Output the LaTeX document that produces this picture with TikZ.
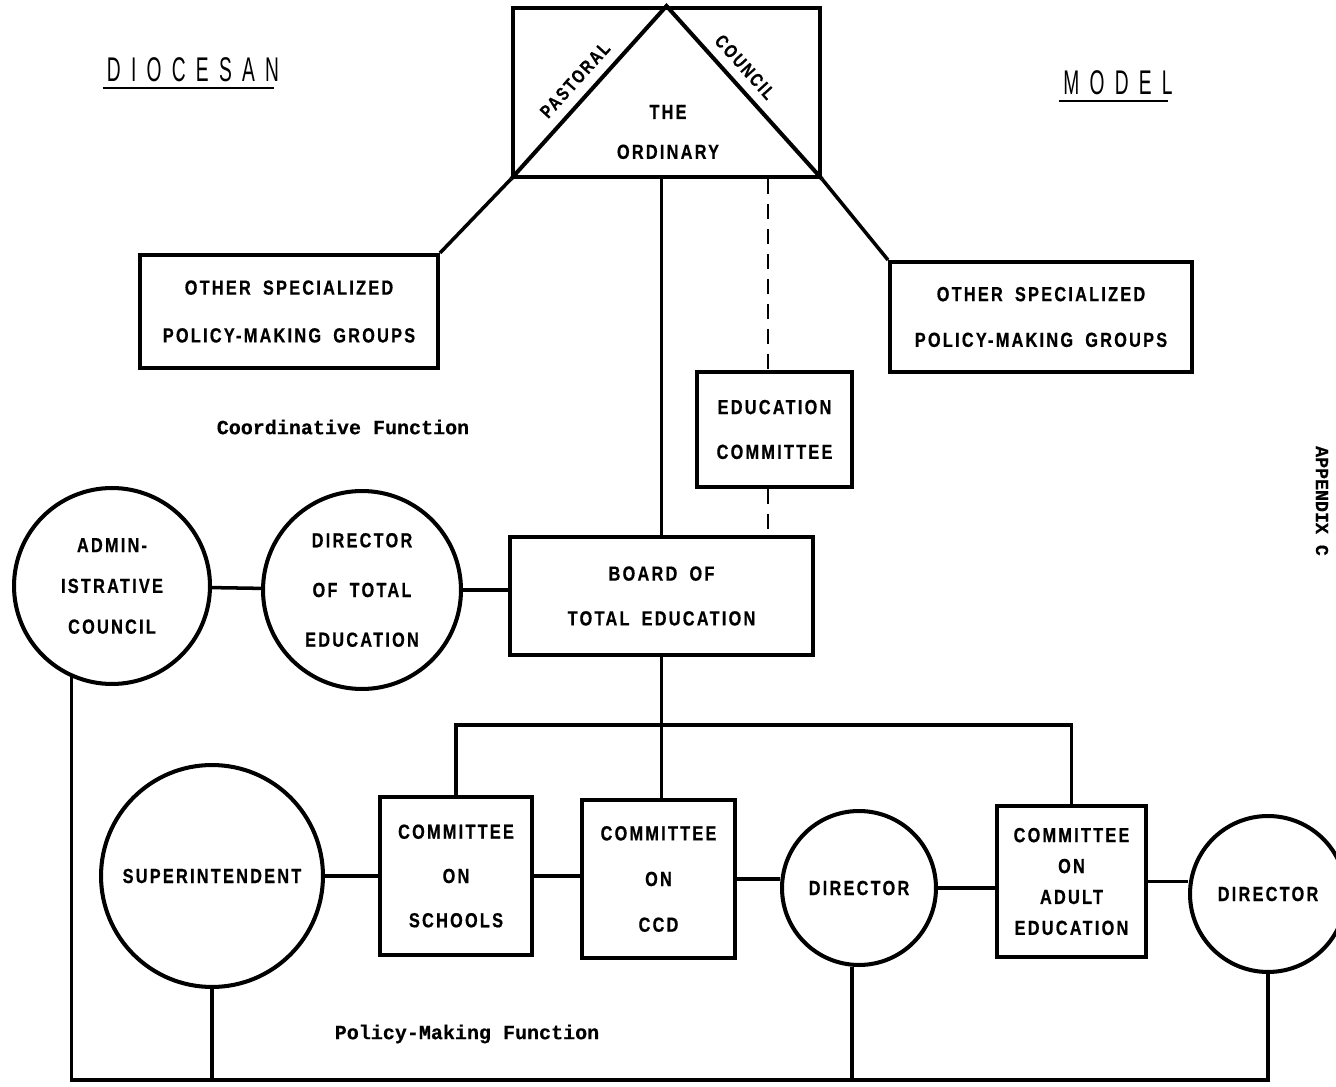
\documentclass[tikz,border=0pt]{standalone}
\usepackage{fontspec}
\newfontfamily\dgboxfont{Liberation Sans}[FakeStretch=0.8,LetterSpace=11,WordSpace=1.8,FakeBold=0.6]
\newfontfamily\dgtitlefont{Liberation Sans}[FakeStretch=0.56,LetterSpace=30]
\newfontfamily\dgmono{Liberation Mono}[FakeBold=0.5]
\tikzset{
  lbl/.style={font=\dgboxfont\bfseries\fontsize{11.6}{#1}\selectfont},
  shapebox/.style={draw, line width=2.3pt, rectangle, inner sep=0pt, align=center},
  shapecirc/.style={draw, line width=2.3pt, circle, inner sep=0pt, align=center},
  conn/.style={line width=2pt},
  dconn/.style={line width=1.6pt, dash pattern=on 0.3cm off 0.2cm},
  titletext/.style={font=\dgtitlefont\fontsize{19.5}{22}\selectfont, inner sep=0pt},
  monotext/.style={font=\dgmono\bfseries\fontsize{11.4}{14}\selectfont, inner sep=0pt},
  slanttext/.style={font=\dgboxfont\bfseries\fontsize{10.5}{12}\selectfont, inner sep=0pt},
}
\begin{document}
\begin{tikzpicture}[x=0.02cm,y=-0.02cm]
\useasboundingbox (0,0) rectangle (1336,1087);
\clip (0,0) rectangle (1336,1087);

% titles
\node[titletext] (dioc) at (193,70) {DIOCESAN};
\draw[line width=1pt] ([yshift=-0.12cm,xshift=-0.08cm]dioc.base west) -- ([yshift=-0.12cm,xshift=-0.1cm]dioc.base east);
\node[titletext] (model) at (1118,83) {MODEL};
\draw[line width=1pt] ([yshift=-0.12cm,xshift=-0.08cm]model.base west) -- ([yshift=-0.12cm,xshift=-0.1cm]model.base east);
\node[font=\dgmono\bfseries\fontsize{10.4}{12}\selectfont, rotate=-90, inner sep=0pt] (app) at (1322,501) {APPENDIX C};

% top: the ordinary with pastoral council triangle
\node[shapebox, minimum width=6.14cm, minimum height=3.38cm] (ord) at (666.5,92.5) {};
\draw[line width=2.3pt, line join=miter] (ord.south west) -- (ord.north) -- (ord.south east);
\node[lbl=22.7, align=center] (ordtxt) at (668,132) {THE\\ORDINARY};
\node[slanttext, rotate=48] (past) at (575,80) {PASTORAL};
\node[slanttext, rotate=-48] (coun) at (745,67) {COUNCIL};

% policy-making groups
\node[shapebox, lbl=27.2, minimum width=5.96cm, minimum height=2.26cm] (oL) at (289,311.5) {OTHER SPECIALIZED\\POLICY-MAKING GROUPS};
\node[shapebox, lbl=26, minimum width=6.04cm, minimum height=2.2cm] (oR) at (1041,317) {OTHER SPECIALIZED\\POLICY-MAKING GROUPS};
\node[shapebox, lbl=25.5, minimum width=3.1cm, minimum height=2.3cm] (edu) at (774.5,429.5) {EDUCATION\\COMMITTEE};
\node[shapebox, lbl=25.5, minimum width=6.06cm, minimum height=2.36cm] (board) at (661.5,596) {BOARD OF\\TOTAL EDUCATION};

\node[monotext] (coord) at (343,427) {Coordinative Function};
\node[monotext] (policy) at (467,1034) {Policy-Making Function};

% circles upper
\node[shapecirc, lbl=23.2, minimum size=3.92cm] (admin) at (112,586) {ADMIN-\\ISTRATIVE\\COUNCIL};
\node[shapecirc, lbl=28.3, minimum size=3.96cm] (dirtot) at (362,590) {DIRECTOR\\OF TOTAL\\EDUCATION};

% lower row
\node[shapecirc, lbl=14, minimum size=4.44cm] (sup) at (212,876) {SUPERINTENDENT};
\node[shapebox, lbl=25.2, minimum width=3.04cm, minimum height=3.16cm] (sch) at (456,876) {COMMITTEE\\ON\\SCHOOLS};
\node[shapebox, lbl=26, minimum width=3.06cm, minimum height=3.16cm] (ccd) at (658.5,879) {COMMITTEE\\ON\\CCD};
\node[shapecirc, lbl=14, minimum size=3.08cm] (dir1) at (859,888) {DIRECTOR};
\node[shapebox, lbl=17.6, minimum width=2.98cm, minimum height=3.02cm] (adult) at (1071.5,881.5) {COMMITTEE\\ON\\ADULT\\EDUCATION};
\node[shapecirc, lbl=14, minimum size=3.12cm] (dir2) at (1268,894) {DIRECTOR};

% coordinates
\coordinate (dashx) at (768,0);
\coordinate (bus) at (660,725);
\coordinate (bot) at (660,1080);

% connectors top
\draw[conn] (ord.south west) -- (oL.north east);
\draw[conn] (ord.south east) -- (oR.north west);
\draw[conn] (board.north |- ord.south) -- (board.north);
\draw[dconn] (dashx |- ord.south) -- (dashx |- edu.north);
\draw[dconn] (dashx |- edu.south) -- (dashx |- board.north);

% connectors middle
\draw[conn] (admin) -- (dirtot);
\draw[conn] (dirtot.east) -- (dirtot.east -| board.west);

% tree
\draw[conn] (board.south) -- (board.south |- ccd.north);
\draw[conn] (sch.north) |- (bus) -| (adult.north);

% lower horizontal connectors
\draw[conn] (sup) -- (sch);
\draw[conn] (sch.east) -- (sch.east -| ccd.west);
\draw[conn] (ccd.east) -- (ccd.east -| dir1.west);
\draw[conn] (dir1.east) -- (dir1.east -| adult.west);
\draw[conn] (adult.east) -- (adult.east -| dir2.west);

% bottom bus
\draw[conn] (admin.246) -- (admin.246 |- bot) -- (dir2.south |- bot) -- (dir2.south);
\draw[conn] (sup.south) -- (sup.south |- bot);
\draw[conn] (dir1.265) -- (dir1.265 |- bot);
\end{tikzpicture}
\end{document}
